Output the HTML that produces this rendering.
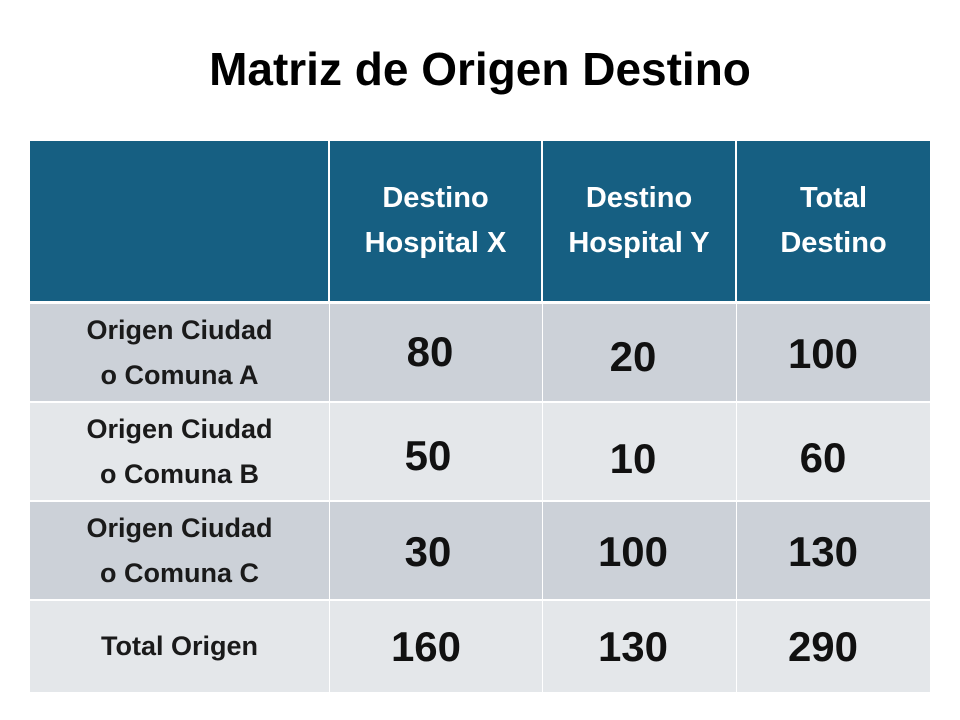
<!DOCTYPE html>
<html><head><meta charset="utf-8"><style>
body{margin:0;width:960px;height:720px;background:#fff;position:relative;overflow:hidden;font-family:"Liberation Sans",sans-serif}
.a{position:absolute;box-sizing:border-box}
.c{display:flex;align-items:center;justify-content:center;text-align:center;font-weight:bold}
.h{background:#165f82;color:#fff;font-size:29px;line-height:45px}
.d{background:#ccd1d8}.l{background:#e4e7ea}
.lab{color:#1a1a1a;font-size:27px;line-height:45px}
.n{position:absolute;width:200px;text-align:center;font-weight:bold;font-size:42px;color:#111;line-height:1}
</style></head><body>
<div class="a" style="left:0;top:40;width:960px;top:42px;text-align:center;font-weight:bold;font-size:46px;color:#000">Matriz de Origen Destino</div>
<div class="a h" style="left:30px;top:141px;width:298px;height:160px"></div>
<div class="a h c" style="left:330px;top:141px;width:211px;height:160px">Destino<br>Hospital X</div>
<div class="a h c" style="left:543px;top:141px;width:192px;height:160px">Destino<br>Hospital Y</div>
<div class="a h c" style="left:737px;top:141px;width:193px;height:160px">Total<br>Destino</div>

<div class="a d" style="left:30px;top:304px;width:900px;height:97px"></div>
<div class="a l" style="left:30px;top:403px;width:900px;height:97px"></div>
<div class="a d" style="left:30px;top:502px;width:900px;height:97px"></div>
<div class="a l" style="left:30px;top:601px;width:900px;height:91px"></div>
<div class="a" style="left:329px;top:304px;width:1px;height:388px;background:#fff"></div>
<div class="a" style="left:542px;top:304px;width:1px;height:388px;background:#fff"></div>
<div class="a" style="left:736px;top:304px;width:1px;height:388px;background:#fff"></div>

<div class="a c lab" style="left:30px;top:304px;width:299px;height:97px">Origen Ciudad<br>o Comuna A</div>
<div class="a c lab" style="left:30px;top:403px;width:299px;height:97px">Origen Ciudad<br>o Comuna B</div>
<div class="a c lab" style="left:30px;top:502px;width:299px;height:97px">Origen Ciudad<br>o Comuna C</div>
<div class="a c lab" style="left:30px;top:601px;width:299px;height:91px">Total Origen</div>

<div class="n" style="left:330px;top:331px">80</div>
<div class="n" style="left:533px;top:336px">20</div>
<div class="n" style="left:723px;top:333px">100</div>
<div class="n" style="left:328px;top:435px">50</div>
<div class="n" style="left:533px;top:438px">10</div>
<div class="n" style="left:723px;top:437px">60</div>
<div class="n" style="left:328px;top:531px">30</div>
<div class="n" style="left:533px;top:531px">100</div>
<div class="n" style="left:723px;top:531px">130</div>
<div class="n" style="left:326px;top:626px">160</div>
<div class="n" style="left:533px;top:626px">130</div>
<div class="n" style="left:723px;top:626px">290</div>
</body></html>
